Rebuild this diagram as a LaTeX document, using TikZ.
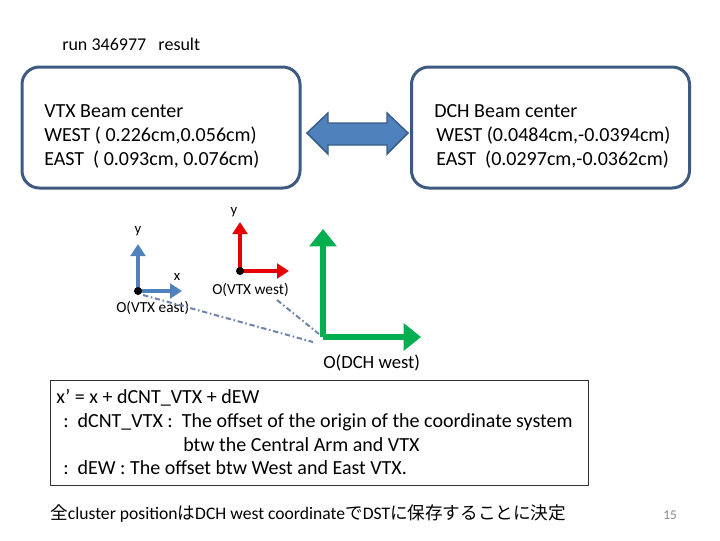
\documentclass[tikz,border=0pt]{standalone}
\usepackage{fontspec}
\setmainfont{Carlito}
\newfontfamily\cjk{Noto Sans CJK JP}
\usetikzlibrary{arrows.meta}
\definecolor{boxborder}{RGB}{63,90,128}
\definecolor{arrowfill}{RGB}{79,129,189}
\definecolor{arrowline}{RGB}{56,93,138}
\definecolor{axblue}{RGB}{79,129,189}
\definecolor{axred}{RGB}{230,0,0}
\definecolor{axgreen}{RGB}{0,176,80}
\definecolor{dashcol}{RGB}{110,132,170}
\definecolor{pagenum}{RGB}{137,137,137}
\begin{document}
\begin{tikzpicture}[x=0.75pt,y=-0.75pt,
  beambox/.style={draw=boxborder,line width=2.25pt,rounded corners=13pt,minimum width=208.5pt,minimum height=90.75pt,inner sep=0pt},
  txt/.style={anchor=base west,inner sep=0pt,font=\fontsize{15}{18}\selectfont},
  lbl/.style={inner sep=0pt,font=\fontsize{11}{13}\selectfont},
  axisb/.style={draw=axblue,line width=3pt,-{Triangle[length=9pt,width=11pt]}},
  axisr/.style={draw=axred,line width=3pt,-{Triangle[length=9pt,width=11pt]}},
  axisg/.style={draw=axgreen,line width=4.5pt,-{Triangle[length=13pt,width=20pt]}},
  link/.style={draw=dashcol,line width=1.5pt,dash pattern=on 4pt off 2pt on 1.2pt off 2pt},
  dot/.style={circle,fill=black,inner sep=0pt,minimum size=6pt}]
\useasboundingbox (0,0) rectangle (720,540);
\fill[white] (0,0) rectangle (720,540);

\node[anchor=base west,inner sep=0pt,font=\fontsize{13.5}{16}\selectfont] (title) at (62,50) {run 346977\ \ \ result};

\node[beambox] (vtxbox) at (161,127.5) {};
\node[beambox] (dchbox) at (550.5,127.5) {};

\node[txt] (v1) at (44,117) {VTX Beam center};
\node[txt] (v2) at (44,141) {WEST ( 0.226cm,0.056cm)};
\node[txt] (v3) at (44,165) {EAST\ \ ( 0.093cm, 0.076cm)};
\node[txt] (d1) at (434,117) {DCH Beam center};
\node[txt] (d2) at (436,141) {WEST (0.0484cm,-0.0394cm)};
\node[txt] (d3) at (436,165) {EAST\ \ (0.0297cm,-0.0362cm)};

\filldraw[fill=arrowfill,draw=arrowline,line width=1.1pt,line join=miter]
  (307,133) -- (328,113) -- (328,123) -- (387,123) -- (387,113) -- (408,133)
  -- (387,154) -- (387,145) -- (328,145) -- (328,154) -- cycle;

% blue axes (VTX east)
\coordinate (oe) at (138,291);
\coordinate (oey) at (138,244);
\coordinate (oex) at (182,291);
\draw[axisb] (oe) -- (oey);
\draw[axisb] (oe) -- (oex);
\node[dot] (oedot) at (oe) {};
\node[lbl] (ye) at (138,231) {y};
\node[lbl] (xe) at (177,277) {x};
\node[lbl,anchor=base west,font=\fontsize{11.5}{13}\selectfont] (oelbl) at (116,312) {O(VTX east)};

% red axes (VTX west)
\coordinate (ow) at (240,271);
\coordinate (owy) at (240,222);
\coordinate (owx) at (289,271);
\draw[axisr] (ow) -- (owy);
\draw[axisr] (ow) -- (owx);
\node[dot] (owdot) at (ow) {};
\node[lbl] (yw) at (234,212) {y};
\node[lbl,anchor=base west,font=\fontsize{11.5}{13}\selectfont] (owlbl) at (212,294) {O(VTX west)};

% green axes (DCH west)
\coordinate (od) at (323,337);
\coordinate (ody) at (323,229);
\coordinate (odx) at (421,337);
\draw[axisg] (od) -- (ody);
\draw[axisg] (od) -- (odx);
\node[anchor=base west,inner sep=0pt,font=\fontsize{14}{16}\selectfont] (odlbl) at (323,368) {O(DCH west)};

% offset links
\coordinate (l1s) at (143,295);
\coordinate (l1e) at (313,342);
\coordinate (l2s) at (277,300);
\coordinate (l2e) at (319,334);
\draw[link] (l1s) -- (l1e);
\draw[link] (l2s) -- (l2e);

% formula box
\node[draw=black!80,line width=0.6pt,minimum width=403.5pt,minimum height=78.75pt,inner sep=0pt] (fbox) at (319,432.5) {};
\node[txt] (f1) at (56,403) {x’ = x + dCNT\_VTX + dEW};
\node[txt] (f2) at (63,427) {:\ \ dCNT\_VTX :\ \ The offset of the origin of the coordinate system};
\node[txt] (f3) at (183,451) {btw the Central Arm and VTX};
\node[txt] (f4) at (63,474) {:\ \ dEW : The offset btw West and East VTX.};

\node[anchor=base west,inner sep=0pt,font=\fontsize{13.2}{16}\selectfont] (jp) at (50,519)
  {{\cjk 全}cluster position{\cjk は}DCH west coordinate{\cjk で}DST{\cjk に保存することに決定}};

\node[anchor=base west,inner sep=0pt,text=pagenum,font=\fontsize{10}{12}\selectfont] (pg) at (663,519) {15};
\end{tikzpicture}
\end{document}
